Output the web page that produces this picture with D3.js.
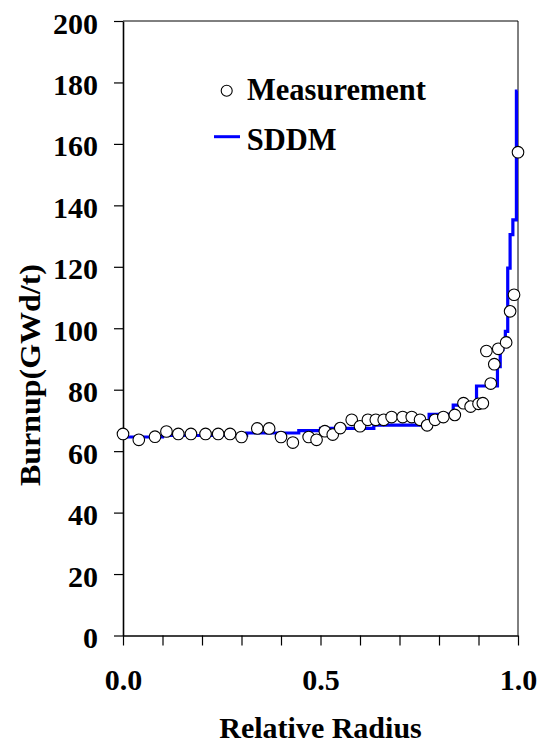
<!DOCTYPE html>
<html>
<head>
<meta charset="utf-8">
<script src="https://cdn.jsdelivr.net/npm/d3@7/dist/d3.min.js"></script>
<style>
  body { margin: 0; background: #fff; }
  svg text { font-family: "Liberation Serif", "Times New Roman", Tinos, "DejaVu Serif", serif; font-weight: bold; }
</style>
</head>
<body>
<div id="chart"></div>
<script>
/* measured points */
const measR = [0.0, 0.04, 0.081, 0.11, 0.14, 0.172, 0.209, 0.241, 0.271, 0.30,
  0.34, 0.37, 0.40, 0.43, 0.47, 0.49, 0.511, 0.531, 0.55, 0.579,
  0.60, 0.62, 0.64, 0.66, 0.68, 0.708, 0.731, 0.752, 0.77, 0.79,
  0.811, 0.84, 0.862, 0.88, 0.90, 0.911, 0.92, 0.931, 0.94, 0.95,
  0.97, 0.98, 0.99, 1.0];
const measBurnup = [65.6, 63.7, 64.7, 66.4, 65.6, 65.6, 65.6, 65.6, 65.6, 64.6,
  67.4, 67.4, 64.6, 62.8, 64.6, 63.7, 66.5, 65.4, 67.5, 70.2,
  68.1, 70.2, 70.2, 70.2, 71.1, 71.1, 71.1, 70.2, 68.4, 70.2,
  71.1, 71.8, 75.6, 74.5, 75.4, 75.6, 92.6, 82.0, 88.3, 93.3,
  95.4, 105.5, 110.9, 157.3];

/* SDDM step profile: value holds from each radius to the next */
const sddmR = [0.0, 0.10, 0.313, 0.445, 0.50, 0.635, 0.775, 0.836, 0.895, 0.948,
  0.955, 0.962, 0.968, 0.974, 0.98, 0.987, 0.996, 0.999];
const sddmBurnup = [64.6, 65.1, 65.9, 66.7, 67.4, 68.5, 72.0, 75.0, 81.2, 87.5,
  93.0, 96.0, 99.0, 119.6, 130.5, 135.3, 177.2, 177.2];

const yTicks = [0, 20, 40, 60, 80, 100, 120, 140, 160, 180, 200];
const xTicks = [0, 0.1, 0.2, 0.3, 0.4, 0.5, 0.6, 0.7, 0.8, 0.9, 1.0];
const xLabels = { 0: "0.0", 0.5: "0.5", 1: "1.0" };

const width = 538, height = 746;
const mLeft = 123, mRight = 518, mTop = 21, mBottom = 635.5;
const serif = '"Liberation Serif", "Times New Roman", Tinos, "DejaVu Serif", serif';

const svg = d3.select("#chart").append("svg")
  .attr("width", width)
  .attr("height", height)
  .style("background", "#fff");

const x = d3.scaleLinear().domain([0, 1]).range([mLeft, mRight]);
const y = d3.scaleLinear().domain([0, 200]).range([mBottom, mTop]);

/* frame top + right */
svg.append("path")
  .attr("d", `M${mLeft},${mTop}H${mRight}V${mBottom}`)
  .attr("fill", "none")
  .attr("stroke", "#000")
  .attr("stroke-width", 1);

/* axes */
const yAxis = svg.append("g")
  .attr("transform", `translate(${mLeft},0)`)
  .call(d3.axisLeft(y).tickValues(yTicks).tickSize(9).tickPadding(16).tickSizeOuter(0));
const xAxis = svg.append("g")
  .attr("transform", `translate(0,${mBottom})`)
  .call(d3.axisBottom(x).tickValues(xTicks).tickSize(10).tickSizeOuter(0)
    .tickFormat(d => xLabels[Math.round(d * 10) / 10] || ""));

[yAxis, xAxis].forEach(g => {
  g.attr("font-family", serif);
  g.select(".domain").attr("stroke", "#000").attr("stroke-width", 1.6);
  g.selectAll(".tick line").attr("stroke", "#000").attr("stroke-width", 1.2);
  g.selectAll("text")
    .style("font-family", serif)
    .attr("font-weight", "bold")
    .attr("font-size", 30)
    .attr("fill", "#000");
});
yAxis.selectAll("text").attr("dy", "0.4em");
xAxis.selectAll("text").attr("y", 0).attr("dy", 54.5);

/* axis titles */
svg.append("text")
  .attr("x", (mLeft + mRight) / 2)
  .attr("y", 738)
  .attr("text-anchor", "middle")
  .attr("font-size", 30)
  .text("Relative Radius");
svg.append("text")
  .attr("transform", "translate(40,375) rotate(-90)")
  .attr("text-anchor", "middle")
  .attr("font-size", 30)
  .attr("textLength", 222)
  .attr("lengthAdjust", "spacingAndGlyphs")
  .text("Burnup(GWd/t)");

/* SDDM step line */
const sddm = sddmR.map((r, i) => ({ r: r, b: sddmBurnup[i] }));
const line = d3.line()
  .x(d => x(d.r))
  .y(d => y(d.b))
  .curve(d3.curveStepAfter);
svg.append("path")
  .attr("d", line(sddm))
  .attr("fill", "none")
  .attr("stroke", "#0000ff")
  .attr("stroke-width", 3.2);

/* measurements */
const meas = measR.map((r, i) => ({ r: r, b: measBurnup[i] }));
svg.selectAll("circle.meas")
  .data(meas)
  .enter()
  .append("circle")
  .attr("class", "meas")
  .attr("cx", d => x(d.r))
  .attr("cy", d => y(d.b))
  .attr("r", 5.8)
  .attr("fill", "#fff")
  .attr("stroke", "#000")
  .attr("stroke-width", 1.1);

/* legend */
const legend = svg.append("g");
legend.append("circle")
  .attr("cx", 226.7).attr("cy", 90.7).attr("r", 5.5)
  .attr("fill", "#fff").attr("stroke", "#000").attr("stroke-width", 1.1);
legend.append("text")
  .attr("x", 247).attr("y", 100)
  .attr("font-size", 30.5)
  .text("Measurement");
legend.append("line")
  .attr("x1", 214).attr("x2", 240)
  .attr("y1", 136.7).attr("y2", 136.7)
  .attr("stroke", "#0000ff").attr("stroke-width", 3);
legend.append("text")
  .attr("x", 246.7).attr("y", 150)
  .attr("font-size", 30.5)
  .text("SDDM");
</script>
</body>
</html>
